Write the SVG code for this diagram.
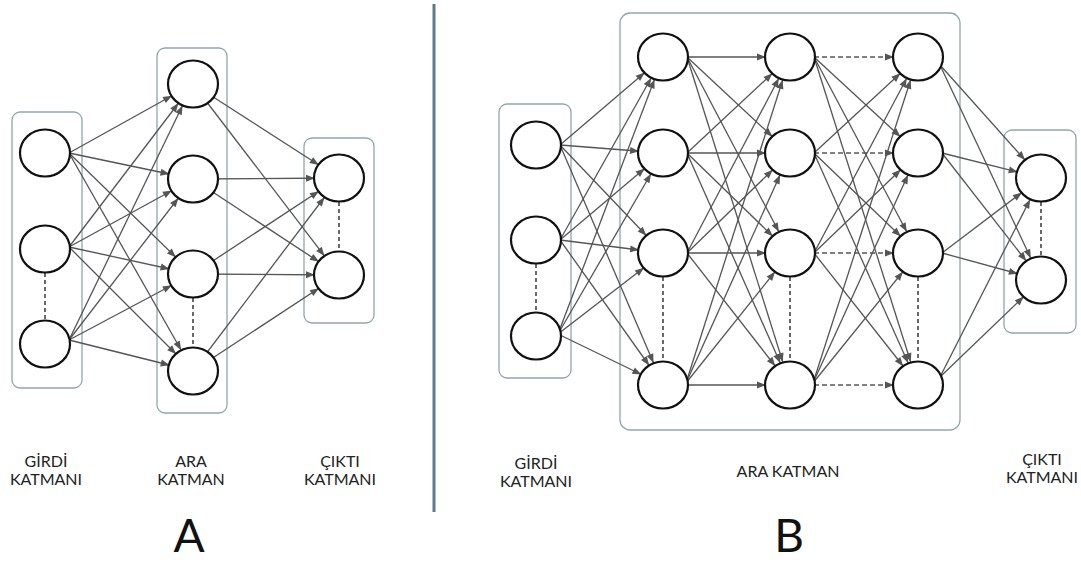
<svg xmlns="http://www.w3.org/2000/svg" width="1081" height="564" viewBox="0 0 1081 564">
<style>
.bg{fill:#fff}
.b{fill:none;stroke:#8fa8aa;stroke-width:1.3}
.n{fill:#fff;stroke:#111;stroke-width:2.2}
.e{stroke:#555;stroke-width:1.3;fill:none;marker-end:url(#ah)}
.d{stroke-dasharray:5 3}
.v{stroke:#444;stroke-width:1.6;stroke-dasharray:4 3}
.t{font-family:Lato,"Liberation Sans",sans-serif;font-size:16px;fill:#222;text-anchor:middle}
.big{font-family:Lato,"Liberation Sans",sans-serif;font-size:46px;fill:#111;text-anchor:middle}
.sep{stroke:#5b7b8d;stroke-width:3}
</style>
<defs>
<marker id="ah" markerUnits="userSpaceOnUse" markerWidth="9" markerHeight="7" refX="33" refY="3.5" orient="auto" overflow="visible">
<path d="M0,0 L9,3.5 L0,7 z" fill="#555"/>
</marker>
</defs>
<rect class="bg" x="0" y="0" width="1081" height="564"/>

<g id="layer-boxes">
<rect class="b" x="12" y="112" width="70" height="276" rx="8"/>
<rect class="b" x="157" y="48" width="70" height="365" rx="8"/>
<rect class="b" x="304" y="138" width="70" height="185" rx="8"/>
<rect class="b" x="499" y="104" width="72" height="274" rx="8"/>
<rect class="b" x="620" y="13" width="340" height="417" rx="10"/>
<rect class="b" x="1004" y="130" width="72" height="203" rx="8"/>
</g>

<line id="separator" class="sep" x1="434" y1="4" x2="434" y2="512"/>

<g id="connectors">
<!-- A: input -> hidden -->
<line class="e" x1="69" y1="153" x2="193" y2="84"/>
<line class="e" x1="69" y1="153" x2="193" y2="179"/>
<line class="e" x1="69" y1="153" x2="193" y2="274"/>
<line class="e" x1="69" y1="153" x2="193" y2="371"/>
<line class="e" x1="69" y1="247" x2="193" y2="84"/>
<line class="e" x1="69" y1="247" x2="193" y2="179"/>
<line class="e" x1="69" y1="247" x2="193" y2="274"/>
<line class="e" x1="69" y1="247" x2="193" y2="371"/>
<line class="e" x1="69" y1="340" x2="193" y2="84"/>
<line class="e" x1="69" y1="340" x2="193" y2="179"/>
<line class="e" x1="69" y1="340" x2="193" y2="274"/>
<line class="e" x1="69" y1="340" x2="193" y2="371"/>
<!-- A: hidden -> output -->
<line class="e" x1="193" y1="84" x2="339" y2="178"/>
<line class="e" x1="193" y1="84" x2="339" y2="275"/>
<line class="e" x1="193" y1="179" x2="339" y2="178"/>
<line class="e" x1="193" y1="179" x2="339" y2="275"/>
<line class="e" x1="193" y1="274" x2="339" y2="178"/>
<line class="e" x1="193" y1="274" x2="339" y2="275"/>
<line class="e" x1="193" y1="371" x2="339" y2="178"/>
<line class="e" x1="193" y1="371" x2="339" y2="275"/>

<!-- B: input -> hidden 1 -->
<line class="e" x1="560" y1="145" x2="663" y2="57"/>
<line class="e" x1="560" y1="145" x2="663" y2="153"/>
<line class="e" x1="560" y1="145" x2="663" y2="253"/>
<line class="e" x1="560" y1="145" x2="663" y2="385"/>
<line class="e" x1="560" y1="240" x2="663" y2="57"/>
<line class="e" x1="560" y1="240" x2="663" y2="153"/>
<line class="e" x1="560" y1="240" x2="663" y2="253"/>
<line class="e" x1="560" y1="240" x2="663" y2="385"/>
<line class="e" x1="558" y1="334" x2="663" y2="57"/>
<line class="e" x1="558" y1="334" x2="663" y2="153"/>
<line class="e" x1="558" y1="334" x2="663" y2="253"/>
<line class="e" x1="558" y1="334" x2="663" y2="385"/>
<!-- B: hidden 1 -> hidden 2 -->
<line class="e" x1="687" y1="57" x2="790" y2="57"/>
<line class="e" x1="687" y1="57" x2="790" y2="153"/>
<line class="e" x1="687" y1="57" x2="790" y2="253"/>
<line class="e" x1="687" y1="57" x2="790" y2="385"/>
<line class="e" x1="687" y1="153" x2="790" y2="57"/>
<line class="e" x1="687" y1="153" x2="790" y2="153"/>
<line class="e" x1="687" y1="153" x2="790" y2="253"/>
<line class="e" x1="687" y1="153" x2="790" y2="385"/>
<line class="e" x1="687" y1="253" x2="790" y2="57"/>
<line class="e" x1="687" y1="253" x2="790" y2="153"/>
<line class="e" x1="687" y1="253" x2="790" y2="253"/>
<line class="e" x1="687" y1="253" x2="790" y2="385"/>
<line class="e" x1="686" y1="383" x2="790" y2="57"/>
<line class="e" x1="686" y1="383" x2="790" y2="153"/>
<line class="e" x1="686" y1="383" x2="790" y2="253"/>
<line class="e" x1="687" y1="385" x2="790" y2="385"/>
<!-- B: hidden 2 -> hidden 3 -->
<line class="e d" x1="814" y1="57" x2="918" y2="57"/>
<line class="e" x1="814" y1="57" x2="918" y2="153"/>
<line class="e" x1="814" y1="57" x2="918" y2="253"/>
<line class="e" x1="814" y1="57" x2="918" y2="385"/>
<line class="e" x1="814" y1="153" x2="918" y2="57"/>
<line class="e d" x1="814" y1="153" x2="918" y2="153"/>
<line class="e" x1="814" y1="153" x2="918" y2="253"/>
<line class="e" x1="814" y1="153" x2="918" y2="385"/>
<line class="e" x1="814" y1="253" x2="918" y2="57"/>
<line class="e" x1="814" y1="253" x2="918" y2="153"/>
<line class="e d" x1="814" y1="253" x2="918" y2="253"/>
<line class="e" x1="814" y1="253" x2="918" y2="385"/>
<line class="e" x1="813" y1="383" x2="918" y2="57"/>
<line class="e" x1="813" y1="383" x2="918" y2="153"/>
<line class="e" x1="813" y1="383" x2="918" y2="253"/>
<line class="e d" x1="814" y1="385" x2="918" y2="385"/>
<!-- B: hidden 3 -> output -->
<line class="e" x1="940" y1="65" x2="1041" y2="178"/>
<line class="e" x1="940" y1="65" x2="1041" y2="280"/>
<line class="e" x1="942" y1="153" x2="1041" y2="178"/>
<line class="e" x1="942" y1="153" x2="1041" y2="280"/>
<line class="e" x1="942" y1="253" x2="1041" y2="178"/>
<line class="e" x1="942" y1="253" x2="1041" y2="280"/>
<line class="e" x1="940" y1="377" x2="1041" y2="178"/>
<line class="e" x1="940" y1="377" x2="1041" y2="280"/>

<!-- vertical dashed continuation marks -->
<line class="v" x1="45" y1="273" x2="45" y2="320"/>
<line class="v" x1="193" y1="298" x2="193" y2="347"/>
<line class="v" x1="339" y1="202" x2="339" y2="251"/>
<line class="v" x1="536" y1="264" x2="536" y2="312"/>
<line class="v" x1="663" y1="277" x2="663" y2="361"/>
<line class="v" x1="790" y1="277" x2="790" y2="361"/>
<line class="v" x1="918" y1="277" x2="918" y2="361"/>
<line class="v" x1="1041" y1="202" x2="1041" y2="256"/>
</g>

<g id="A-in-1"><ellipse class="n" cx="45" cy="153" rx="25" ry="23.5"/></g>
<g id="A-in-2"><ellipse class="n" cx="45" cy="249" rx="25" ry="23.5"/></g>
<g id="A-in-3"><ellipse class="n" cx="45" cy="344" rx="25" ry="23.5"/></g>
<g id="A-hid-1"><ellipse class="n" cx="193" cy="84" rx="25" ry="23.5"/></g>
<g id="A-hid-2"><ellipse class="n" cx="193" cy="179" rx="25" ry="23.5"/></g>
<g id="A-hid-3"><ellipse class="n" cx="193" cy="274" rx="25" ry="23.5"/></g>
<g id="A-hid-4"><ellipse class="n" cx="193" cy="371" rx="25" ry="23.5"/></g>
<g id="A-out-1"><ellipse class="n" cx="339" cy="178" rx="25" ry="23.5"/></g>
<g id="A-out-2"><ellipse class="n" cx="339" cy="275" rx="25" ry="23.5"/></g>

<g id="B-in-1"><ellipse class="n" cx="536" cy="145" rx="25" ry="23.5"/></g>
<g id="B-in-2"><ellipse class="n" cx="536" cy="240" rx="25" ry="23.5"/></g>
<g id="B-in-3"><ellipse class="n" cx="536" cy="336" rx="25" ry="23.5"/></g>
<g id="B-h1-1"><ellipse class="n" cx="663" cy="57" rx="25" ry="23.5"/></g>
<g id="B-h1-2"><ellipse class="n" cx="663" cy="153" rx="25" ry="23.5"/></g>
<g id="B-h1-3"><ellipse class="n" cx="663" cy="253" rx="25" ry="23.5"/></g>
<g id="B-h1-4"><ellipse class="n" cx="663" cy="385" rx="25" ry="23.5"/></g>
<g id="B-h2-1"><ellipse class="n" cx="790" cy="57" rx="25" ry="23.5"/></g>
<g id="B-h2-2"><ellipse class="n" cx="790" cy="153" rx="25" ry="23.5"/></g>
<g id="B-h2-3"><ellipse class="n" cx="790" cy="253" rx="25" ry="23.5"/></g>
<g id="B-h2-4"><ellipse class="n" cx="790" cy="385" rx="25" ry="23.5"/></g>
<g id="B-h3-1"><ellipse class="n" cx="918" cy="57" rx="25" ry="23.5"/></g>
<g id="B-h3-2"><ellipse class="n" cx="918" cy="153" rx="25" ry="23.5"/></g>
<g id="B-h3-3"><ellipse class="n" cx="918" cy="253" rx="25" ry="23.5"/></g>
<g id="B-h3-4"><ellipse class="n" cx="918" cy="385" rx="25" ry="23.5"/></g>
<g id="B-out-1"><ellipse class="n" cx="1041" cy="178" rx="25" ry="23.5"/></g>
<g id="B-out-2"><ellipse class="n" cx="1041" cy="280" rx="25" ry="23.5"/></g>

<g id="labels">
<text class="t" x="46" y="467">GİRDİ</text>
<text class="t" x="46" y="485">KATMANI</text>
<text class="t" x="191" y="467">ARA</text>
<text class="t" x="191" y="485">KATMAN</text>
<text class="t" x="340" y="467">ÇIKTI</text>
<text class="t" x="340" y="485">KATMANI</text>
<text class="t" x="536" y="469">GİRDİ</text>
<text class="t" x="536" y="487">KATMANI</text>
<text class="t" x="788" y="477">ARA KATMAN</text>
<text class="t" x="1042" y="465">ÇIKTI</text>
<text class="t" x="1042" y="483">KATMANI</text>
<text class="big" x="189" y="552">A</text>
<text class="big" x="789" y="552">B</text>
</g>
</svg>
